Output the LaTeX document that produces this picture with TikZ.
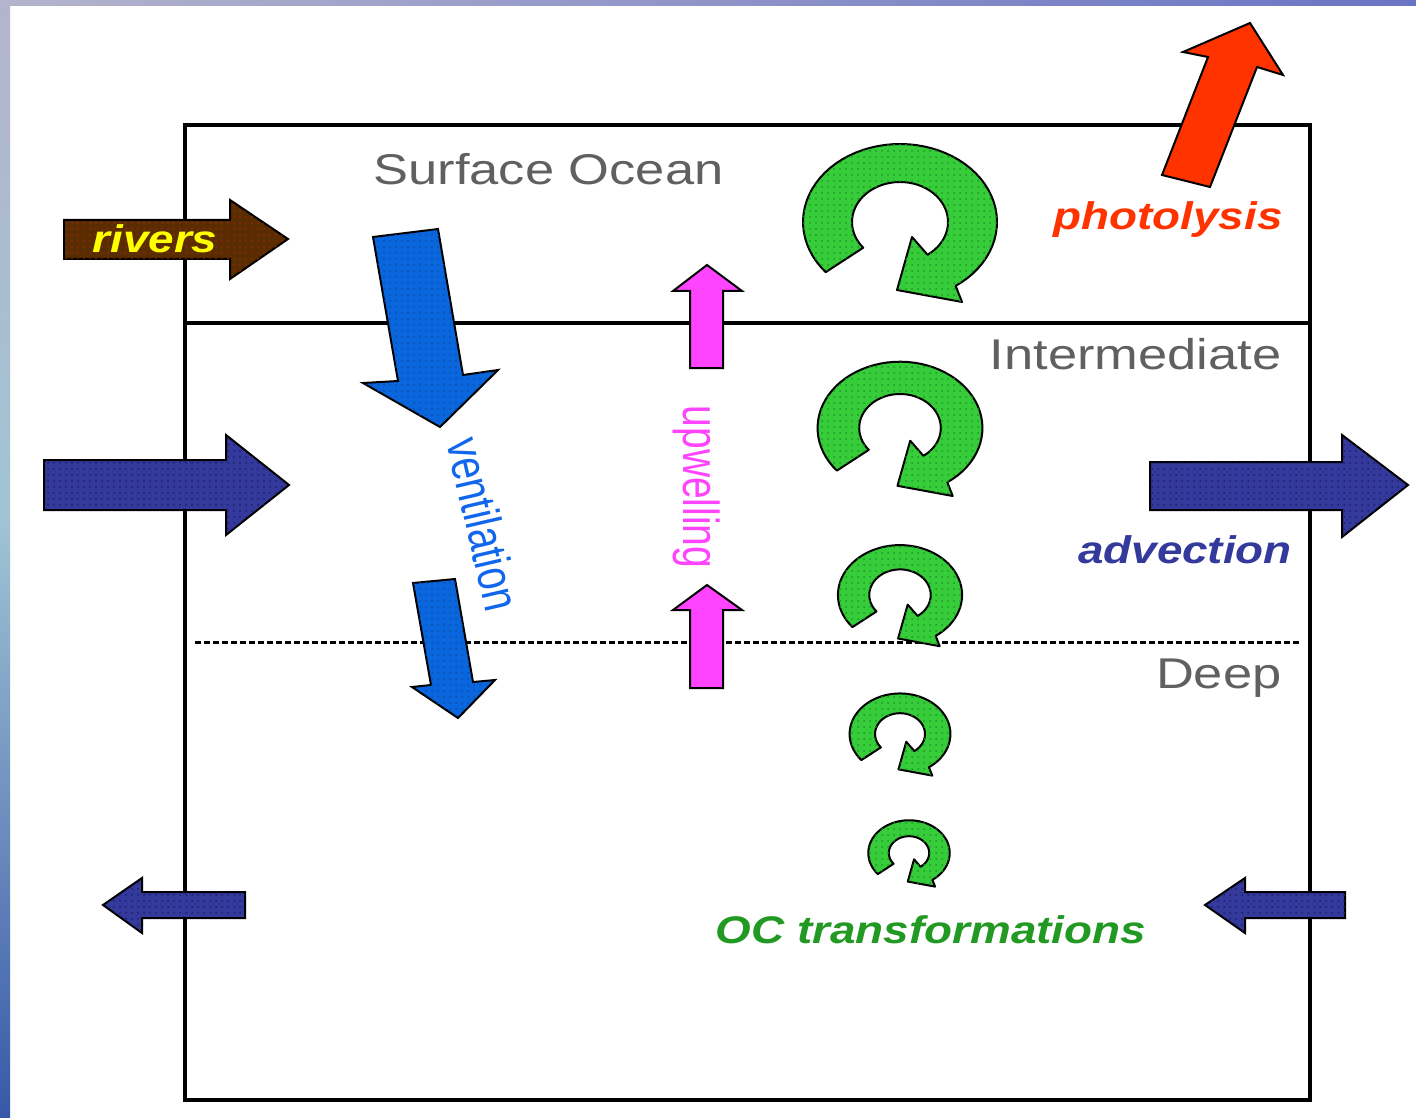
\documentclass[tikz,border=0pt]{standalone}
\usepackage{fontspec}
\usetikzlibrary{patterns}
\setmainfont{Liberation Sans}
\definecolor{labgray}{HTML}{606060}
\definecolor{riverbrown}{HTML}{5A2D00}
\definecolor{rivdot}{HTML}{8A2A10}
\definecolor{rivtext}{HTML}{FFFF00}
\definecolor{advblue}{HTML}{343A9C}
\definecolor{advdot}{HTML}{202070}
\definecolor{ventblue}{HTML}{0A66DD}
\definecolor{ventdot}{HTML}{0A50B0}
\definecolor{venttext}{HTML}{1166EE}
\definecolor{upmag}{HTML}{FF44FF}
\definecolor{photred}{HTML}{FF3300}
\definecolor{ocgreen}{HTML}{36CC3A}
\definecolor{ocdot}{HTML}{1E9A28}
\definecolor{octext}{HTML}{229922}
\definecolor{bgtl}{HTML}{B4B4CC}
\definecolor{bgtr}{HTML}{6A74C4}
\definecolor{bgm}{HTML}{A0C4D4}
\definecolor{bgb}{HTML}{3858A8}
\newcommand\recyc[3]{%
  \begin{scope}[shift={(#1,#2)},scale=#3]
    \filldraw[ring] plot[domain=140:415,samples=60] ({97*cos(\x)},{78*sin(\x)})
      -- (62,80) -- (-3,68) -- (12,15)
      -- plot[domain=415:140,samples=50] ({48*cos(\x)},{40*sin(\x)}) -- cycle;
  \end{scope}}
\begin{document}
\begin{tikzpicture}[x=0.5pt,y=-0.5pt,
  boxline/.style={line width=2pt,draw=black},
  sepline/.style={line width=1.5pt,draw=black,dash pattern=on 3pt off 1.5pt},
  blockarrow/.style={draw=black,line width=1pt,line join=miter},
  stipple/.style={postaction={pattern=dots,pattern color=#1}},
  ring/.style={draw=black,line width=1pt,fill=ocgreen,line join=round,stipple=ocdot},
  graylab/.style={font=\fontsize{21.5}{25}\selectfont,text=labgray,inner sep=0pt,xscale=1.22},
  bilab/.style={font=\fontsize{19.25}{23}\selectfont\bfseries\itshape,inner sep=0pt,xscale=1.19},
  vlab/.style={font=\fontsize{19.5}{23}\selectfont,inner sep=0pt,yscale=1.3}]
\useasboundingbox (0,0) rectangle (1416,1117);
\fill[white] (0,0) rectangle (1416,1117);
% background frame strips
\shade[left color=bgtl,right color=bgtr] (0,0) rectangle (1416,6);
\shade[top color=bgtl,bottom color=bgm] (0,0) rectangle (10,520);
\shade[top color=bgm,bottom color=bgb] (0,520) rectangle (10,1117);
% box and layer lines
\draw[boxline] (185,125) rectangle (1310,1100);
\draw[boxline] (185,323) -- (1310,323);
\draw[sepline] (195,642) -- (1300,642);
% layer labels
\node[graylab,anchor=base west] (surf) at (373,185) {Surface Ocean};
\node[graylab,anchor=base east] (inter) at (1282,369) {Intermediate};
\node[graylab,anchor=base east] (deep) at (1282,688) {Deep};
% rivers
\filldraw[blockarrow,fill=riverbrown,stipple=rivdot] (64,220) -- (230,220) -- (230,200) -- (288,239) -- (230,279) -- (230,259) -- (64,259) -- cycle;
\node[bilab,text=rivtext,anchor=base] (rivers) at (155,253) {rivers};
% advection arrows
\filldraw[blockarrow,fill=advblue,stipple=advdot] (44,460) -- (226,460) -- (226,435) -- (289,485) -- (226,535) -- (226,510) -- (44,510) -- cycle;
\filldraw[blockarrow,fill=advblue,stipple=advdot] (1150,462) -- (1342,462) -- (1342,435) -- (1408,485) -- (1342,537) -- (1342,510) -- (1150,510) -- cycle;
\filldraw[blockarrow,fill=advblue,stipple=advdot] (245,892) -- (142,892) -- (142,878) -- (103,905) -- (142,933) -- (142,918) -- (245,918) -- cycle;
\filldraw[blockarrow,fill=advblue,stipple=advdot] (1345,892) -- (1245,892) -- (1245,878) -- (1205,905) -- (1245,933) -- (1245,918) -- (1345,918) -- cycle;
\node[bilab,text=advblue,anchor=base] (adv) at (1185,563) {advection};
% ventilation
\filldraw[blockarrow,fill=ventblue,stipple=ventdot] (373,237) -- (438,229) -- (463,375) -- (498,370) -- (440,427) -- (363,383) -- (398,381) -- cycle;
\filldraw[blockarrow,fill=ventblue,stipple=ventdot] (413,583) -- (455,579) -- (473,682) -- (495,680) -- (458,718) -- (412,687) -- (431,685) -- cycle;
\node[rotate=-77,vlab,text=venttext] (vent) at (484,524) {ventilation};
% upwelling
\filldraw[blockarrow,fill=upmag] (690,368) -- (690,291) -- (673,291) -- (707,265) -- (742,291) -- (723,291) -- (723,368) -- cycle;
\filldraw[blockarrow,fill=upmag] (690,688) -- (690,610) -- (673,610) -- (707,585) -- (742,610) -- (723,610) -- (723,688) -- cycle;
\node[rotate=-90,vlab,text=upmag] (up) at (697,487) {upwelling};
% photolysis
\filldraw[blockarrow,fill=photred] (1162,175) -- (1208,57) -- (1183,52) -- (1250,23) -- (1283,75) -- (1257,67) -- (1210,187) -- cycle;
\node[bilab,text=photred,anchor=base] (phot) at (1168,230) {photolysis};
% OC transformations
\recyc{900}{222}{1}
\recyc{900}{428}{0.85}
\recyc{900}{595}{0.64}
\recyc{900}{734}{0.52}
\recyc{909}{853}{0.42}
\node[bilab,text=octext,anchor=base] (oc) at (931,943) {OC transformations};
\end{tikzpicture}
\end{document}
